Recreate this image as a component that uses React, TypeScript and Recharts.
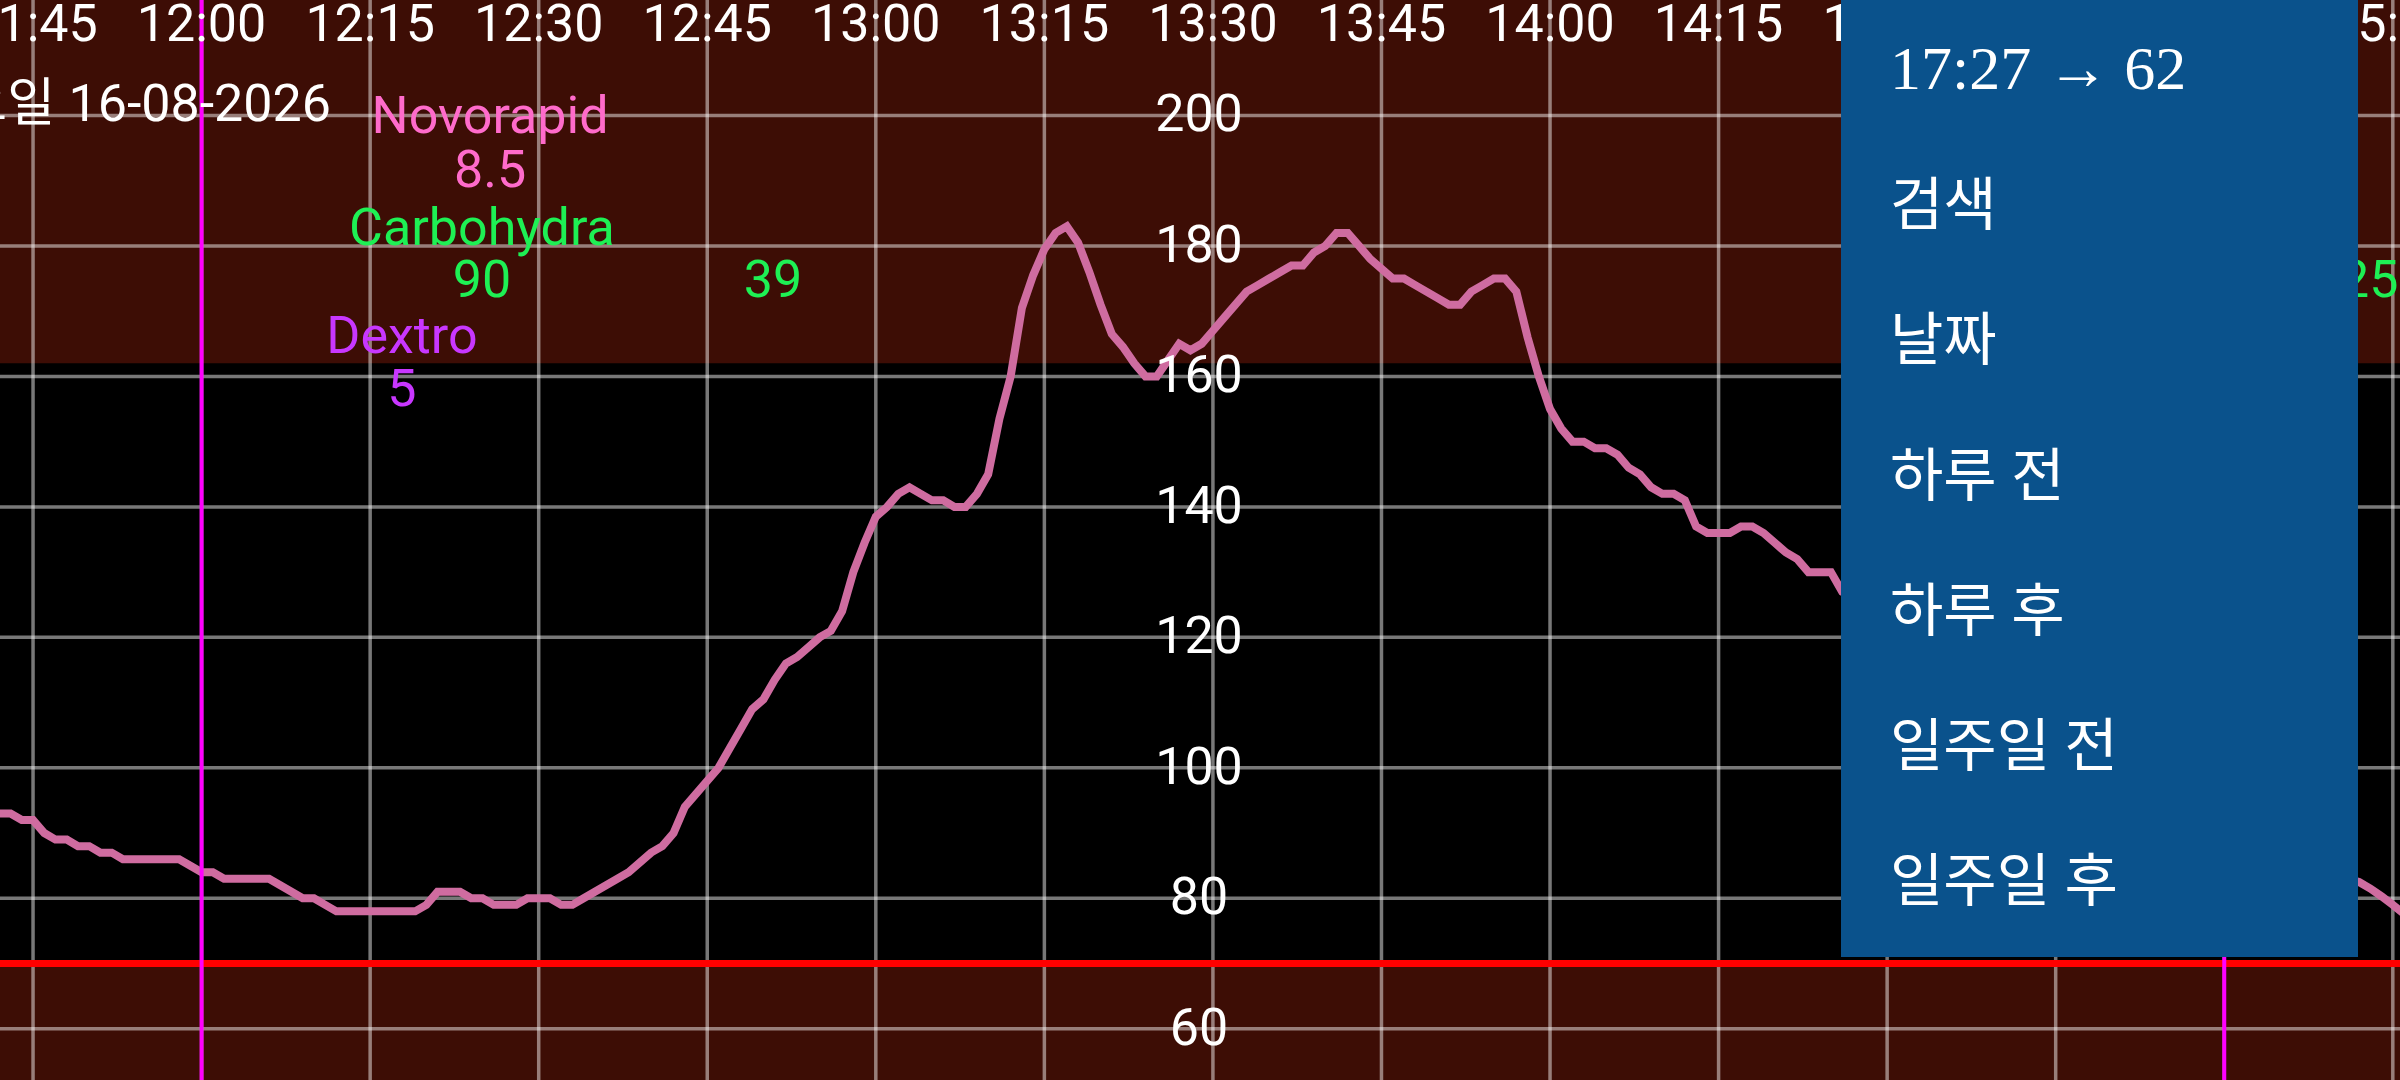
import React from "react";
import {
  LineChart,
  Line,
  XAxis,
  YAxis,
  CartesianGrid,
  ReferenceArea,
  ReferenceLine,
  ReferenceDot,
} from "recharts";

const W = 2400;
const H = 1080;
const FONT = "Roboto, 'Noto Sans CJK KR', sans-serif";

// glucose readings (mg/dl), one a minute from 11:42
const firstReading = "11:42";
const glucose = [
  93, 93, 92, 92, 90, 89, 89, 88, 88, 87,
  87, 86, 86, 86, 86, 86, 86, 85, 84, 84,
  83, 83, 83, 83, 83, 82, 81, 80, 80, 79,
  78, 78, 78, 78, 78, 78, 78, 78, 79, 81,
  81, 81, 80, 80, 79, 79, 79, 80, 80, 80,
  79, 79, 80, 81, 82, 83, 84, 85.5, 87, 88,
  90, 94, 96, 98, 100, 103, 106, 109, 110.5, 113.5,
  116, 117, 118.5, 120, 121, 124, 130, 134.5, 138.5, 140,
  142, 143, 142, 141, 141, 140, 140, 142, 145, 153.5,
  160, 170.5, 175.5, 179.5, 182, 183, 180.5, 176, 171, 166.5,
  164.5, 162, 160, 160, 162.5, 165, 164, 165, 167, 169,
  171, 173, 174, 175, 176, 177, 177, 179, 180, 182,
  182, 180, 178, 176.5, 175, 175, 174, 173, 172, 171,
  171, 173, 174, 175, 175, 173, 166, 160, 155, 152,
  150, 150, 149, 149, 148, 146, 145, 143, 142, 142,
  141, 137, 136, 136, 136, 137, 137, 136, 134.5, 133,
  132, 130, 130, 130, 127,
];
// readings seen again right of the menu, one a minute from 15:11
const tailReading = "15:11";
const glucoseTail = [83, 82.5, 81.5, 80.3, 79, 77.6];

const timeLabels = [
  "11:45", "12:00", "12:15", "12:30", "12:45", "13:00", "13:15", "13:30",
  "13:45", "14:00", "14:15", "14:30", "14:45", "15:00", "15:15",
];
const bgTicks = [60, 80, 100, 120, 140, 160, 180, 200];
const lowTarget = 70;
const highTarget = 162;
const markerTimes = ["12:00", "15:00"];

// treatments: time in minutes since midnight
const insulinTimes = [745.67];
const insulinAmounts = ["8.5"];
const carbTimes = [744.95, 770.85, 912.9];
const carbAmounts = ["90", "39", "25"];
const dextroTimes = [737.83];
const dextroAmounts = ["5"];

const dayLabel = "일요일";
const dateLabel = "16-08-2026";
const menuItems = ["17:27 → 62", "검색", "날짜", "하루 전", "하루 후", "일주일 전", "일주일 후"];

const toMin = (s: string) => {
  const [h, m] = s.split(":").map(Number);
  return h * 60 + m;
};
const fmt = (v: number) => `${Math.floor(v / 60)}:${String(v % 60).padStart(2, "0")}`;

const X_DOMAIN = [702.06, 915.64];
const Y_DOMAIN = [52.15, 217.7];

// label rows (baseline level, mg/dl scale)
const rows = {
  insulin: { name: 197.3, amount: 189.1, color: "#FF6BCB", title: "Novorapid" },
  carbs: { name: 180.2, amount: 172.25, color: "#1EF054", title: "Carbohydra" },
  dextro: { name: 163.6, amount: 155.4, color: "#C837FF", title: "Dextro" },
};

const textShape = (txt: string, color: string) => (p: any) => (
  <text x={p.cx} y={p.cy} textAnchor="middle" fill={color} fontSize={52} fontFamily={FONT}>
    {txt}
  </text>
);

function treatmentDots(kind: keyof typeof rows, times: number[], amounts: string[]) {
  const r = rows[kind];
  return times.flatMap((t, i) => {
    const out = [
      <ReferenceDot key={`${kind}-a-${i}`} x={t} y={r.amount} r={0} shape={textShape(amounts[i], r.color)} />,
    ];
    if (i === 0)
      out.push(<ReferenceDot key={`${kind}-n-${i}`} x={t} y={r.name} r={0} shape={textShape(r.title, r.color)} />);
    return out;
  });
}

const TimeTick = (p: any) => (
  <text x={p.x} y={42} textAnchor="middle" fill="#fff" fontSize={52} fontFamily={FONT}>
    {fmt(p.payload.value)}
  </text>
);

const BgTick = (p: any) => (
  <text x={W / 2} y={p.y + 16} textAnchor="middle" fill="#fff" fontSize={52} fontFamily={FONT}>
    {p.payload.value}
  </text>
);

export default function App() {
  const data = [
    ...glucose.map((v, i) => ({ t: toMin(firstReading) + i, bg: v })),
    ...glucoseTail.map((v, i) => ({ t: toMin(tailReading) + i, bg: v })),
  ];

  return (
    <div
      style={{
        position: "fixed",
        left: 0,
        top: 0,
        width: W,
        height: H,
        background: "#3D0D05",
        overflow: "hidden",
      }}
    >
      <LineChart
        width={W + 1}
        height={H + 1}
        data={data}
        margin={{ top: 0, right: 0, bottom: 0, left: 0 }}
        style={{ position: "absolute", left: -1, top: -1 }}
      >
        <XAxis
          dataKey="t"
          type="number"
          orientation="top"
          domain={X_DOMAIN}
          allowDataOverflow
          ticks={timeLabels.map(toMin)}
          interval={0}
          height={1}
          axisLine={false}
          tickLine={false}
          tick={<TimeTick />}
        />
        <YAxis
          type="number"
          domain={Y_DOMAIN}
          allowDataOverflow
          ticks={bgTicks}
          interval={0}
          width={1}
          axisLine={false}
          tickLine={false}
          tick={<BgTick />}
        />
        <ReferenceArea y1={lowTarget} y2={highTarget} fill="#000" fillOpacity={1} stroke="none" zIndex={-200} />
        <CartesianGrid stroke="rgba(255,255,255,0.47)" strokeWidth={3.5} syncWithTicks />
        <ReferenceLine y={lowTarget} stroke="#FF0000" strokeWidth={7} />
        <Line
          type="linear"
          dataKey="bg"
          stroke="#CF6CA0"
          strokeWidth={8}
          dot={false}
          activeDot={false}
          isAnimationActive={false}
        />
        {markerTimes.map((m) => (
          <ReferenceLine key={m} x={toMin(m)} stroke="#FF00FF" strokeWidth={4} />
        ))}
        {treatmentDots("insulin", insulinTimes, insulinAmounts)}
        {treatmentDots("carbs", carbTimes, carbAmounts)}
        {treatmentDots("dextro", dextroTimes, dextroAmounts)}
      </LineChart>

      <svg
        width={W}
        height={H}
        style={{ position: "absolute", left: 0, top: 0, pointerEvents: "none" }}
      >
        <text x={55} y={121} textAnchor="end" fill="#fff" fontSize={52} fontFamily={FONT}>
          {dayLabel}
        </text>
        <text x={331} y={121} textAnchor="end" fill="#fff" fontSize={52} fontFamily={FONT}>
          {dateLabel}
        </text>
        <rect x={1841} y={0} width={517} height={957} fill="#0A528C" />
        {menuItems.map((m, i) => (
          <text
            key={m}
            x={1890}
            y={i === 0 ? 89 : 90 + i * 135.2}
            fill="#fff"
            fontSize={i === 0 ? 62 : 58}
            fontFamily="'Liberation Serif', 'Noto Sans CJK KR', serif"
          >
            {m}
          </text>
        ))}
      </svg>
    </div>
  );
}
